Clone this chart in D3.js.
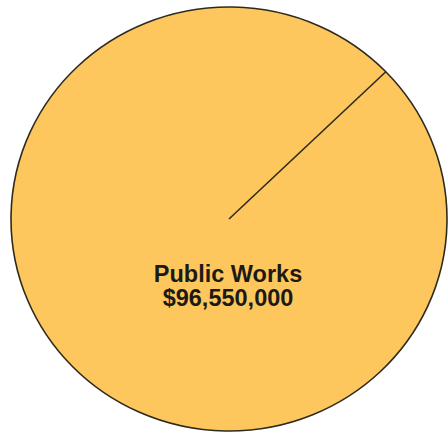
<!DOCTYPE html>
<html>
<head>
<meta charset="utf-8">
<script src="https://cdn.jsdelivr.net/npm/d3@7"></script>
<style>
  html, body { margin: 0; padding: 0; background: #fff; }
  svg { display: block; }
</style>
</head>
<body>
<svg class="pie" width="448" height="434"></svg>
<script>
var categories = ["Public Works"];
var values = [96550000];
var labels = ["$96,550,000"];

var svg = d3.select(".pie"),
    cx = 229, cy = 219,
    rx = 218, ry = 212,
    g = svg.append("g").attr("transform", "translate(" + cx + "," + cy + ") scale(1," + (ry / rx) + ")");

var data = categories.map(function (c, i) {
    return {name: c, value: values[i], label: labels[i]};
});

// single slice starting at the seam seen top right
var start = 46 * Math.PI / 180;
var pie = d3.pie()
    .sort(null)
    .value(function (d) { return d.value; })
    .startAngle(start)
    .endAngle(start + 2 * Math.PI);

var arc = d3.arc()
    .innerRadius(0)
    .outerRadius(rx);

var colors = d3.scaleOrdinal().domain(categories).range(["#fec75d"]);

var slices = g.selectAll("g.slice")
    .data(pie(data))
    .enter().append("g")
    .attr("class", "slice");

slices.append("path")
    .attr("d", arc)
    .attr("fill", function (d) { return colors(d.data.name); })
    .attr("stroke", "#2e2a1e")
    .attr("stroke-width", 1.6)
    .attr("vector-effect", "non-scaling-stroke");

// slice border along its start angle
slices.append("path")
    .attr("d", function (d) {
        return d3.line()([[0, 0], d3.pointRadial(d.startAngle, rx)]);
    })
    .attr("fill", "none")
    .attr("stroke", "#2e2a1e")
    .attr("stroke-width", 1.6)
    .attr("vector-effect", "non-scaling-stroke");

var txt = svg.append("text")
    .attr("x", cx - 1)
    .attr("text-anchor", "middle")
    .attr("font-family", "Liberation Sans, Arial, sans-serif")
    .attr("font-weight", "bold")
    .attr("font-size", 23.5)
    .attr("fill", "#1c1a14");

data.forEach(function (d) {
    txt.append("tspan").attr("x", cx - 1).attr("y", 282).text(d.name);
    txt.append("tspan").attr("x", cx - 1).attr("y", 306).text(d.label);
});
</script>
</body>
</html>
